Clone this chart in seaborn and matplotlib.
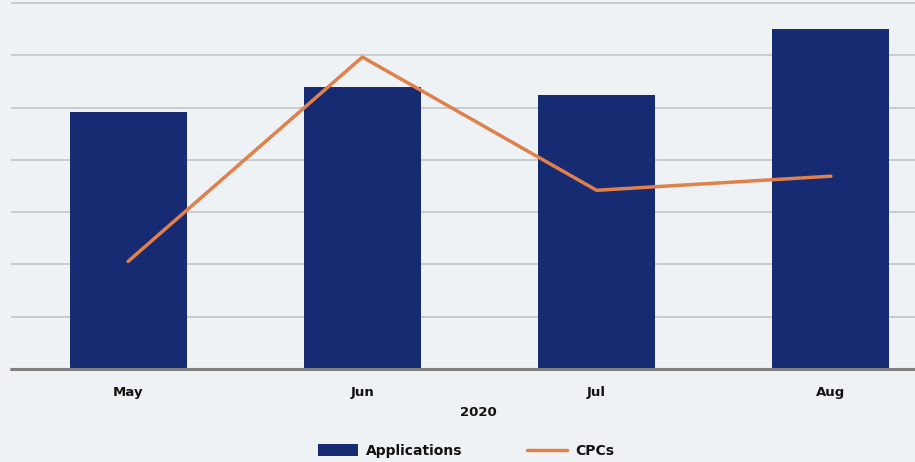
import numpy as np
import matplotlib
matplotlib.use('Agg')
import matplotlib.pyplot as plt
import seaborn as sns

# Valores (escala relativa, sin etiquetas en el eje Y)
months = ['May', 'Jun', 'Jul', 'Aug']
applications = [4.91, 5.39, 5.24, 6.50]
cpcs = [2.06, 5.97, 3.42, 3.69]
year_label = '2020'

bg = '#eff2f5'
bar_color = '#172b72'
line_color = '#e0804a'

sns.set_style('white')
plt.rcParams['font.family'] = ['DejaVu Sans']

fig = plt.figure(figsize=(9.15, 4.62), dpi=100, facecolor=bg)
# el eje sobresale por la derecha, como en la imagen recortada
ax = fig.add_axes([11 / 915, 1 - 369 / 462, 937 / 915, 371 / 462])
ax.set_facecolor(bg)

sns.barplot(x=months, y=applications, color=bar_color, width=0.5,
            saturation=1, ax=ax, label='Applications', zorder=2,
            edgecolor=bar_color, linewidth=0)
sns.lineplot(x=np.arange(len(months)), y=cpcs, color=line_color,
             linewidth=2.5, ax=ax, label='CPCs', zorder=3)

ax.set_xlim(-0.5, 3.5)
ax.set_ylim(0, 7.1)
ax.set_yticks(range(1, 8))
ax.yaxis.grid(True, color='#c6c9cc', linewidth=1.3, zorder=0)
ax.set_axisbelow(True)
ax.axhline(0, color='#7f7f7f', linewidth=2.2, zorder=4, clip_on=False)
ax.tick_params(axis='y', left=False, labelleft=False)
ax.tick_params(axis='x', bottom=False, pad=9, labelcolor='#111111')
for lbl in ax.get_xticklabels():
    lbl.set_fontweight('bold')
    lbl.set_fontsize(9.5)
for s in ax.spines.values():
    s.set_visible(False)

ax.set_xlabel('')
fig.text(478 / 915, 1 - 413 / 462, year_label, ha='center', va='center',
         fontsize=9.5, fontweight='bold', color='#111111')

ax.get_legend().remove()
handles, labels = ax.get_legend_handles_labels()
order = [labels.index('Applications'), labels.index('CPCs')]
leg = fig.legend([handles[i] for i in order], [labels[i] for i in order],
                 loc='center', ncol=2,
                 bbox_to_anchor=(466 / 915, 1 - 451 / 462), frameon=False,
                 handlelength=2.9, handleheight=0.9, columnspacing=4.6,
                 handletextpad=0.6,
                 prop={'weight': 'bold', 'size': 10})
for t in leg.get_texts():
    t.set_color('#111111')

fig.savefig('out.png', dpi=100, facecolor=bg)
